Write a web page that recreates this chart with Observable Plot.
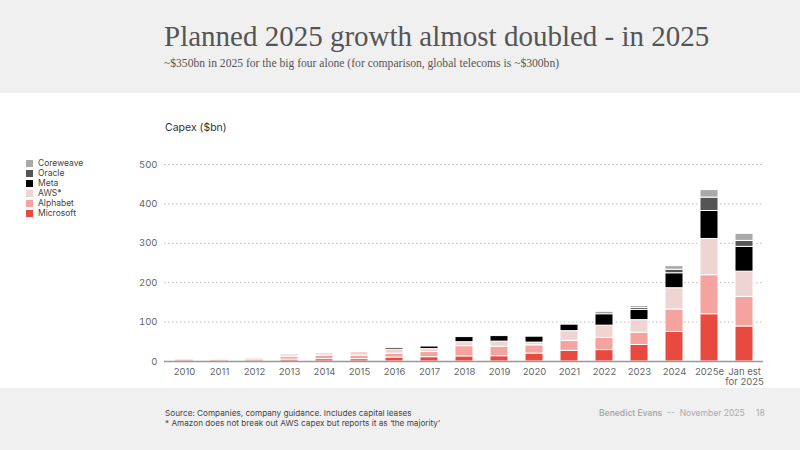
<!DOCTYPE html>
<html>
<head>
<meta charset="utf-8">
<script src="https://cdn.jsdelivr.net/npm/d3@7"></script>
<script src="https://cdn.jsdelivr.net/npm/@observablehq/plot@0.6"></script>
<style>
  html, body { margin: 0; padding: 0; }
  body { width: 800px; height: 450px; position: relative; overflow: hidden; background: #fff; font-family: Inter, "Noto Sans", sans-serif; }
  #top { position: absolute; left: 0; top: 0; width: 800px; height: 93px; background: #f0f0f0; }
  #bottom { position: absolute; left: 0; top: 388px; width: 800px; height: 62px; background: #f0f0f0; }
  #title { position: absolute; left: 164px; top: 20px; font-family: "Liberation Serif", serif; font-size: 29px; color: #555; white-space: nowrap; }
  #subtitle { position: absolute; left: 164px; top: 57px; font-family: "Liberation Serif", serif; font-size: 11.6px; color: #555; white-space: nowrap; }
  #ylabel { position: absolute; left: 165px; top: 121px; font-size: 10.5px; color: #333; }
  #legend { position: absolute; left: 26px; top: 158px; font-size: 8.5px; color: #444; }
  .li { height: 10px; line-height: 10px; display: flex; align-items: center; }
  .sw { width: 7px; height: 7px; margin-right: 5px; }
  #chart { position: absolute; left: 0; top: 93px; }
  #src { position: absolute; left: 165px; top: 408px; font-size: 8.2px; color: #444; line-height: 10px; }
  #credit { position: absolute; left: 599px; top: 408px; font-size: 8.5px; color: #aaa; white-space: nowrap; line-height: 10px; }
  #page { position: absolute; left: 756px; top: 408px; font-size: 8.5px; color: #aaa; line-height: 10px; }
</style>
</head>
<body>
<div id="top"></div>
<div id="bottom"></div>
<div id="title">Planned 2025 growth almost doubled - in 2025</div>
<div id="subtitle">~$350bn in 2025 for the big four alone (for comparison, global telecoms is ~$300bn)</div>
<div id="ylabel">Capex ($bn)</div>
<div id="legend"></div>
<div id="chart"></div>
<div id="src">Source: Companies, company guidance. Includes capital leases<br>* Amazon does not break out AWS capex but reports it as ‘the majority’</div>
<div id="credit"><b style="font-weight:600">Benedict Evans</b> &nbsp;-- &nbsp;November 2025</div>
<div id="page">18</div>
<script>
const years = ["2010","2011","2012","2013","2014","2015","2016","2017","2018","2019","2020","2021","2022","2023","2024","2025e","Jan est\nfor 2025"];
const companies = ["Microsoft","Alphabet","AWS*","Meta","Oracle","Coreweave"];
const colors = ["#e84a40","#f4a39e","#efd5d2","#000000","#555555","#a9a9a9"];
const microsoft = [2, 1.5, 2, 5, 6, 6, 10, 11, 13, 13.5, 20, 27, 29, 42, 75, 120, 89];
const alphabet  = [2, 1.5, 3, 7, 9, 9, 10, 13, 26, 24, 21, 25, 31, 31, 57, 99, 75];
const aws       = [1, 1, 3, 6, 6, 9, 10, 7.5, 10, 13, 7, 25, 31, 32, 54, 92, 64];
const meta      = [0, 0, 0, 0, 0, 0, 4, 6.5, 13, 14, 15, 17, 29, 26, 38, 71, 63];
const oracle    = [0, 0, 0, 0, 0, 0, 0, 0, 0, 0, 0, 2, 5, 5, 9, 34, 15];
const coreweave = [0, 0, 0, 0, 0, 0, 0, 0, 0, 0, 0, 0, 3, 5, 9, 19, 18];
const fadedYears = ["2010","2011","2012"];

const series = [microsoft, alphabet, aws, meta, oracle, coreweave];
const data = [];
years.forEach((y, i) => {
  companies.forEach((c, j) => {
    if (series[j][i] > 0) data.push({year: y, company: c, value: series[j][i]});
  });
});
const faded = data.filter(d => fadedYears.includes(d.year));
const solid = data.filter(d => !fadedYears.includes(d.year));

// legend
const leg = document.getElementById("legend");
[...companies].reverse().forEach(c => {
  const k = companies.indexOf(c);
  const d = document.createElement("div");
  d.className = "li";
  d.innerHTML = `<span class="sw" style="background:${colors[k]}"></span>${c}`;
  leg.appendChild(d);
});

const chart = Plot.plot({
  width: 800,
  height: 295,
  marginLeft: 164,
  marginRight: 37,
  marginTop: 71,
  marginBottom: 27,
  style: {fontFamily: "Inter, 'Noto Sans', sans-serif", fontSize: "9.5px", color: "#666", background: "transparent"},
  x: {domain: years, paddingInner: 0.5, paddingOuter: 0.25, label: null, tickSize: 0, tickPadding: 7},
  y: {domain: [0, 500], ticks: [0,100,200,300,400,500], label: null, tickSize: 0, tickPadding: 7},
  color: {domain: companies, range: colors},
  marks: [
    Plot.gridY([100,200,300,400,500], {stroke: "#bbb", strokeOpacity: 1, strokeDasharray: "1.5,2.5", strokeWidth: 1}),
    Plot.barY(faded, {x: "year", y: "value", fill: "company", fillOpacity: 0.35}),
    Plot.barY(solid, {x: "year", y: "value", fill: "company", stroke: "#fff", strokeWidth: 1}),
    Plot.ruleY([0], {stroke: "#999", strokeWidth: 1.5})
  ]
});
document.getElementById("chart").appendChild(chart);
</script>
</body>
</html>
